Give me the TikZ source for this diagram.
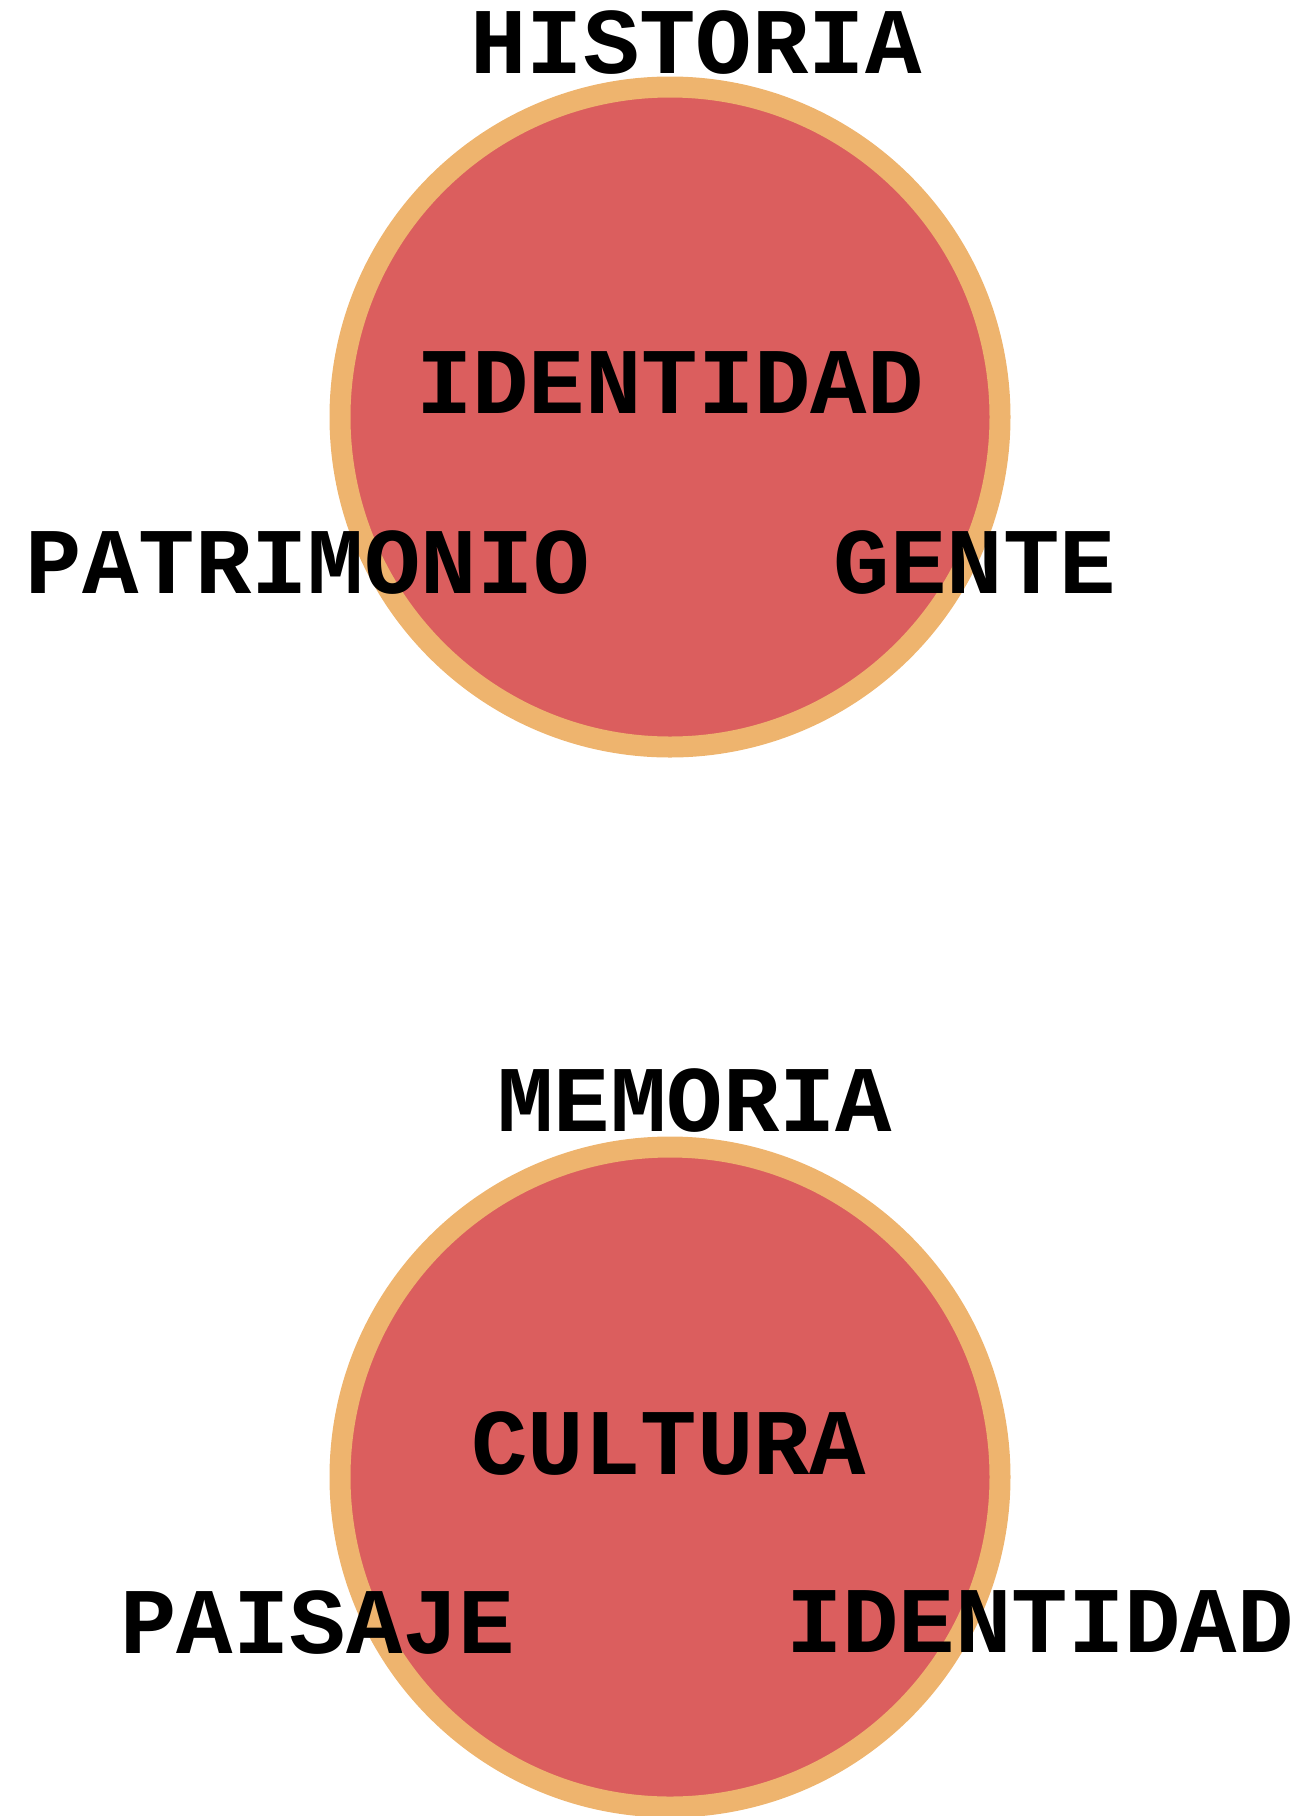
\documentclass[tikz,border=0pt]{standalone}
\usepackage{fontspec}
\setmonofont{Liberation Mono}
\definecolor{discfill}{RGB}{219,94,94}
\definecolor{discrim}{RGB}{238,180,110}
\tikzset{ disc/.style = { circle
                        , draw = discrim
                        , fill = discfill
                        , line width   = 10.5pt
                        , inner sep    = 0pt
                        , minimum size = 330pt
                        },
          word/.style = { inner sep = 0pt
                        , font = \fontsize{47}{56}\selectfont\ttfamily\bfseries
                        }
        }

\begin{document}
\begin{tikzpicture}[x=0.5pt, y=-0.5pt]
            \useasboundingbox (0,0) rectangle (1300,1816);
            % upper disc
            \node[disc] (d1) at (670,417) {};
            \node[word] (historia)   at (696,43)  {HISTORIA};
            \node[word] (identidad1) at (670,383) {IDENTIDAD};
            \node[word] (patrimonio) at (308,563) {PATRIMONIO};
            \node[word] (gente)      at (975,563) {GENTE};
            % lower disc
            \node[disc] (d2) at (670,1477) {};
            \node[word] (memoria)    at (695,1101) {MEMORIA};
            \node[word] (cultura)    at (669,1443) {CULTURA};
            \node[word] (paisaje)    at (318,1622) {PAISAJE};
            \node[word] (identidad2) at (1040,1622) {IDENTIDAD};
\end{tikzpicture}
\end{document}
